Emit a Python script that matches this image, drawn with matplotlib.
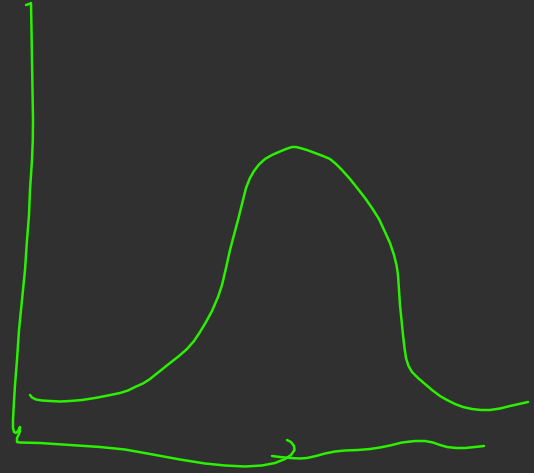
import matplotlib
matplotlib.use("Agg")
import matplotlib.pyplot as plt

W = 534
H = 473
bg_color = "#303030"
line_color = "#2bf000"

# hand drawn axes stroke, x axis goes on into the little hook
axis_x = [26, 29, 31, 31.5, 32, 32.5, 33, 32.8, 32, 31, 30, 29, 27, 25, 22, 19, 17, 15, 13.5, 13, 13, 14, 16, 18, 20, 20, 19, 17, 17, 20,
          40, 70, 100, 125, 150, 180, 205, 225, 245, 262, 275, 285, 291, 294.5, 294, 291, 287]
axis_y = [5, 4, 3, 30, 60, 90, 120, 140, 160, 175, 190, 215, 240, 270, 300, 330, 360, 385, 410, 420, 428, 432, 433, 431, 427, 431, 434, 438, 442, 442.5,
          443, 445, 447, 449.5, 454, 459.5, 463.5, 465.5, 466.5, 465.5, 463, 459, 455, 450, 446, 442, 440]

# rest of the x axis, to the right of the hook
tail_x = [272, 280, 290, 300, 307, 316, 325, 335, 345, 358, 370, 380, 390, 402, 415, 425, 433, 440, 447, 456, 465, 475, 484]
tail_y = [456, 457, 458, 458.5, 458, 456, 453.5, 451.5, 450.5, 450, 449, 447.5, 445.5, 442.5, 441, 441, 442.5, 445, 447, 448, 448, 447, 446]

# the bump
curve_x = [30, 32, 36, 42, 50, 60, 70, 82, 95, 108, 120, 128, 135, 143, 150, 160, 170, 179, 187, 194, 200, 206, 212, 218, 222,
           226, 230, 234, 238, 242, 246, 250, 254, 259, 265, 272, 280, 286, 292, 296, 300, 307, 315, 323, 330, 336, 342, 350, 358,
           365, 372, 379, 385, 390, 394, 396.5, 398, 399, 400, 401.5, 403, 404.5, 406, 408.5, 412, 418, 425, 432, 440, 447, 455, 463, 472, 481, 490, 500, 510, 519, 528]
curve_y = [395, 397.5, 399.5, 400.5, 401, 401.5, 401, 400, 398, 395.5, 393, 390.5, 387, 383.5, 379, 371, 363, 356, 349, 341, 332, 322, 311, 297, 285,
           268, 250, 235, 220, 204, 188, 178, 171, 164.5, 159, 155, 151.5, 149, 147, 147, 148, 150, 153, 156, 159, 164, 170, 179, 189,
           198, 208, 219, 232, 243, 255, 265, 275, 290, 305, 320, 335, 348, 358, 366, 372, 378, 384, 390, 396, 400, 404, 407, 409, 410, 410, 408.5, 406, 404, 402]

fig = plt.figure(figsize=(W / 100, H / 100), dpi=100, facecolor=bg_color)
ax = fig.add_axes([0, 0, 1, 1])
ax.set_xlim(0, W)
ax.set_ylim(H, 0)
ax.axis("off")

for xs, ys in [(axis_x, axis_y), (tail_x, tail_y), (curve_x, curve_y)]:
    ax.plot(xs, ys, color=line_color, linewidth=1.8, solid_capstyle="round", solid_joinstyle="round")

fig.savefig("out.png", dpi=100, facecolor=bg_color)
